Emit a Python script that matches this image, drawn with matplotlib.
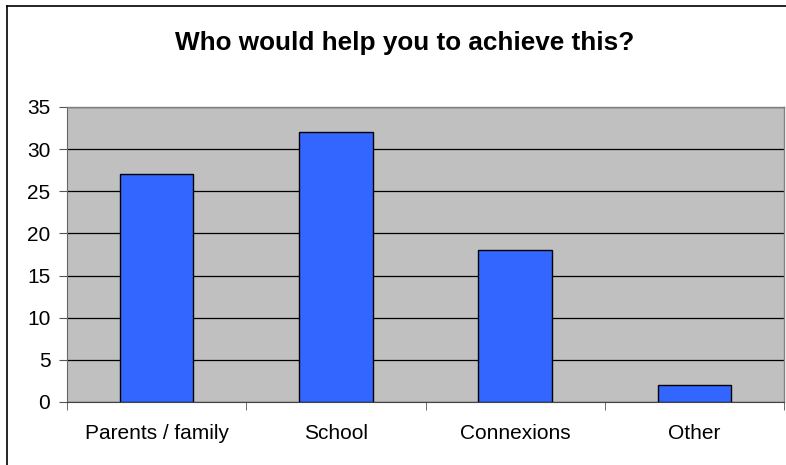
import matplotlib.pyplot as plt
import numpy as np
from matplotlib.lines import Line2D

plt.rcParams['font.family'] = ['Liberation Sans', 'DejaVu Sans']

categories = ['Parents / family', 'School', 'Connexions', 'Other']
values = [27, 32, 18, 2]
title = 'Who would help you to achieve this?'

fig = plt.figure(figsize=(7.86, 4.65), dpi=100)
ax = fig.add_axes([0.0852, 0.1355, 0.9123, 0.6345])

x = np.arange(len(categories))
ax.set_facecolor('#c0c0c0')
ax.bar(x, values, width=0.41, color='#3366ff', edgecolor='black', linewidth=1.0, zorder=3)

ax.set_xlim(-0.5, len(categories) - 0.5)
ax.set_ylim(0, 35)
ax.set_yticks(np.arange(0, 36, 5))
ax.yaxis.grid(True, color='black', linewidth=0.9, zorder=1)
ax.set_axisbelow(True)

ax.set_xticks(x)
ax.set_xticklabels(categories, fontsize=15)
ax.tick_params(axis='x', length=0, pad=16)
ax.set_xticks(np.arange(-0.5, len(categories)), minor=True)
ax.tick_params(axis='x', which='minor', length=6, color='#555555', direction='out')
ax.tick_params(axis='y', labelsize=15, length=6, color='#555555', pad=6)

for s in ['top', 'right']:
    ax.spines[s].set_color('#808080')
    ax.spines[s].set_linewidth(1.0)
ax.spines['left'].set_color('#666666')
ax.spines['bottom'].set_color('#444444')

fig.text(0.515, 0.907, title, fontsize=18.8, fontweight='bold', ha='center', va='center')

# outer chart border (left and top edges visible)
fig.add_artist(Line2D([7/786, 7/786], [0, 1 - 6/465], color='black', linewidth=1.2, transform=fig.transFigure))
fig.add_artist(Line2D([7/786, 1], [1 - 6/465, 1 - 6/465], color='black', linewidth=1.2, transform=fig.transFigure))

fig.savefig('out.png', dpi=100)
